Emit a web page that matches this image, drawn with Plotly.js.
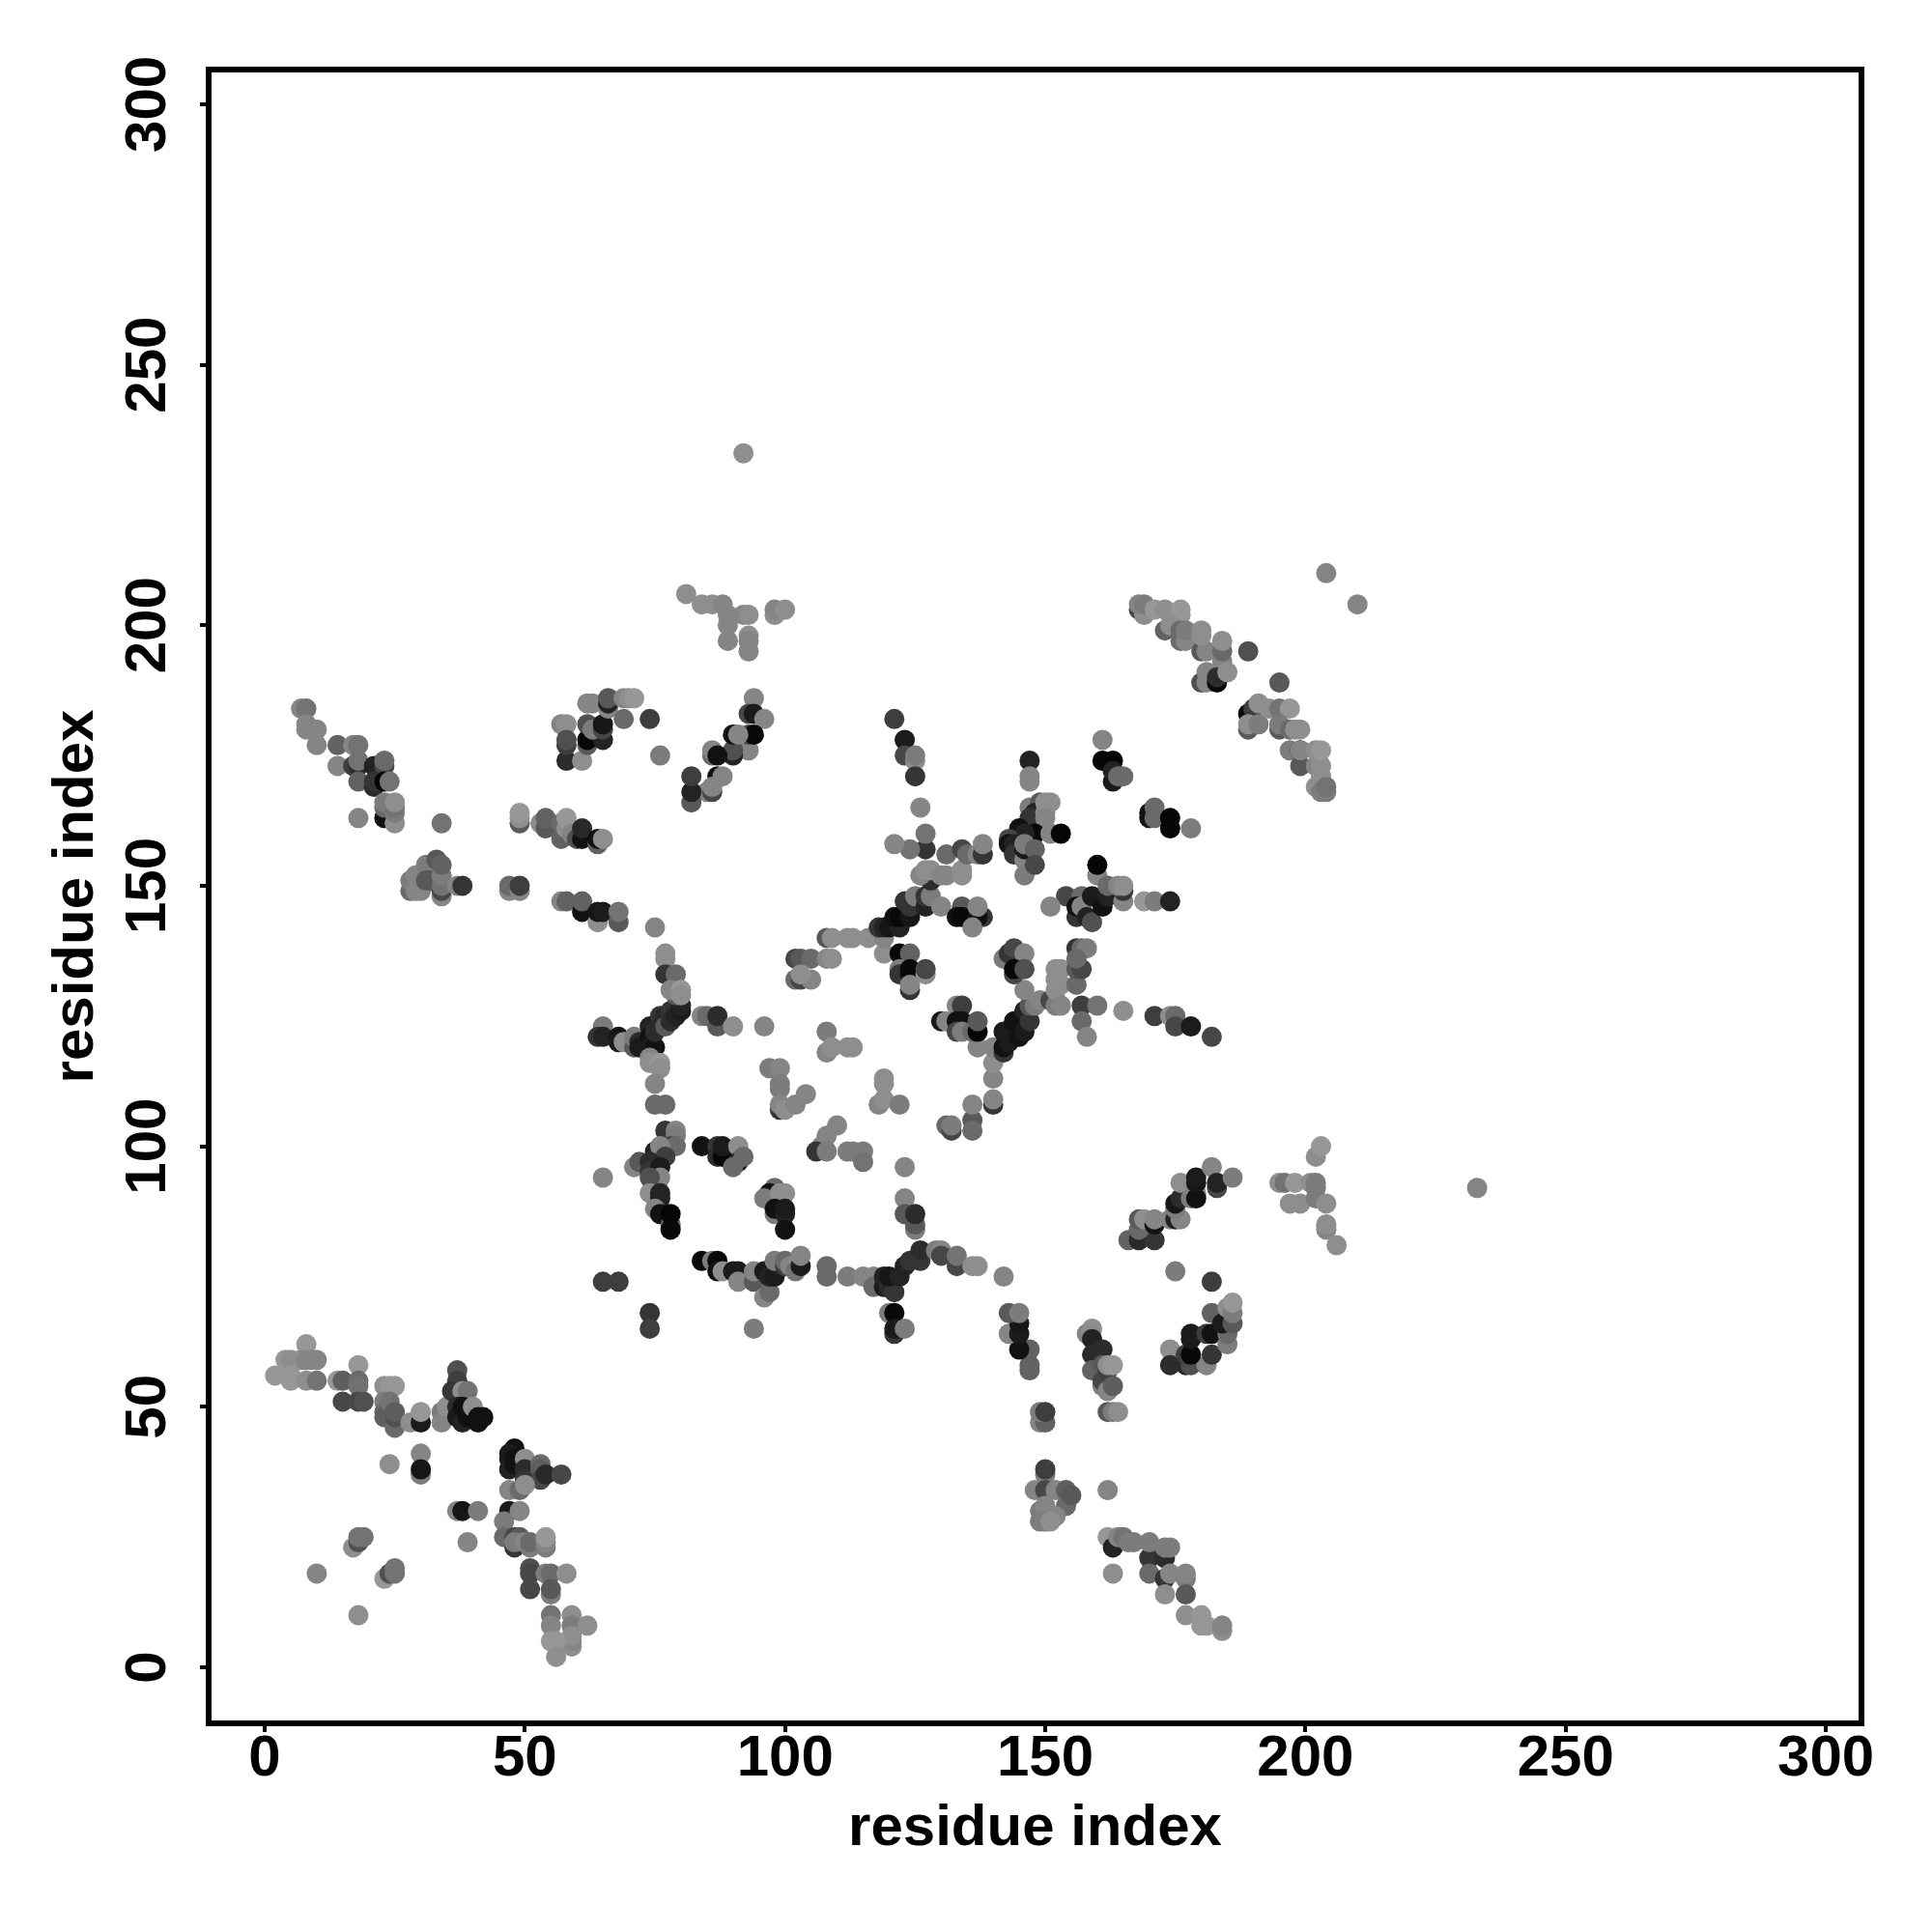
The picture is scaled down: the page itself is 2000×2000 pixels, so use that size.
<!DOCTYPE html>
<html><head><meta charset="utf-8">
<script src="https://cdn.plot.ly/plotly-3.0.1.min.js"></script>
<style>html,body{margin:0;padding:0;background:#fff}</style></head>
<body><div id="chart" style="width:2000px;height:2000px"></div>
<script>
// each contact: [residue i, residue j, grey level 0-255]
const lowerLeftArm=[[8,62,0x88],[4,59,0x88],[5,59,0x80],[7,59,0x80],[8,59,0x78],[9,59,0x78],[10,59,0x78],[2,56,0x88],[5,56,0x88],[5,55,0x88],[8,55,0x80],[10,55,0x68],[14,55,0x88],[15,55,0x55],[18,58,0x88],[18,55,0x60],[18,54,0x66],[15,51,0x40],[18,51,0x40],[19,51,0x48],[23,54,0x80],[24,54,0x88],[25,54,0x88],[23,51,0x70],[23,49,0x60],[23,48,0x55],[24,51,0x68],[25,46,0x60],[25,48,0x48],[25,49,0x55],[28,47,0x80],[30,47,0x18],[30,49,0x88],[34,49,0x70],[34,47,0x78],[35,50,0x80],[37,57,0x48],[37,55,0x38],[36,53,0x30],[38,53,0x80],[39,53,0x68],[37,50,0x28],[37,48,0x18],[38,47,0x20],[38,50,0x10],[39,48,0x10],[40,50,0x80],[41,47,0x10],[41,48,0x10],[42,48,0x10]];
const lowerLeftStem=[[30,41,0x78],[30,37,0x70],[30,38,0x15],[24,39,0x80],[48,42,0x10],[47,41,0x18],[47,40,0x18],[47,38,0x20],[48,40,0x10],[48,39,0x10],[50,40,0x80],[50,38,0x28],[50,36,0x30],[53,39,0x60],[53,38,0x55],[53,36,0x40],[54,37,0x25],[57,37,0x40],[47,34,0x78],[49,34,0x60],[50,35,0x80],[37,30,0x78],[38,30,0x15],[41,30,0x70],[47,30,0x18],[49,30,0x78],[39,24,0x78],[46,28,0x70],[46,25,0x60],[48,23,0x30],[48,25,0x40],[49,25,0x50],[48,24,0x70],[50,24,0x78],[51,23,0x70],[51,24,0x60],[54,23,0x70],[54,24,0x78],[54,25,0x88],[51,19,0x48],[51,18,0x40],[51,15,0x40],[54,18,0x70],[55,18,0x60],[58,18,0x80],[55,14,0x70],[55,15,0x50],[55,10,0x68],[55,8,0x78],[59,10,0x80],[59,8,0x70],[62,8,0x80],[59,4,0x80],[59,5,0x78],[59,6,0x80],[55,5,0x88],[56,5,0x88],[56,2,0x80],[17,23,0x80],[18,24,0x48],[19,25,0x68],[18,25,0x68],[10,18,0x78],[23,17,0x88],[24,18,0x48],[25,19,0x68],[25,18,0x68],[18,10,0x80]];
const lowerRightArm=[[162,25,0x88],[163,23,0x20],[164,25,0x78],[165,25,0x68],[166,24,0x70],[167,24,0x70],[163,18,0x80],[170,21,0x30],[170,24,0x70],[173,21,0x28],[173,23,0x70],[174,23,0x70],[170,18,0x60],[173,17,0x30],[174,18,0x78],[177,17,0x70],[177,18,0x78],[177,14,0x50],[173,14,0x80],[177,10,0x80],[180,10,0x88],[180,8,0x88],[181,8,0x88],[184,7,0x80],[184,8,0x78],[150,37,0x70],[150,38,0x38],[148,34,0x78],[150,34,0x40],[152,34,0x78],[154,31,0x60],[154,34,0x55],[155,33,0x50],[152,29,0x78],[149,30,0x70],[150,31,0x78],[149,28,0x70],[150,28,0x70],[151,28,0x80],[162,34,0x78],[149,47,0x78],[150,47,0x58],[149,49,0x70],[150,49,0x38],[162,49,0x50],[163,49,0x70],[164,49,0x80]];
const rightMiddle=[[147,57,0x58],[147,58,0x58],[147,61,0x58],[145,61,0x10],[143,64,0x78],[145,64,0x18],[145,66,0x15],[143,68,0x50],[145,68,0x70],[158,64,0x78],[159,65,0x80],[159,63,0x20],[159,60,0x28],[161,61,0x28],[159,57,0x58],[161,58,0x50],[161,54,0x70],[161,55,0x40],[162,57,0x38],[162,53,0x78],[163,54,0x55],[162,58,0x80],[163,58,0x88],[174,61,0x80],[174,58,0x28],[177,58,0x28],[178,58,0x48],[181,58,0x78],[177,60,0x38],[178,60,0x08],[178,64,0x18],[178,63,0x18],[181,64,0x38],[182,60,0x30],[182,64,0x10],[182,68,0x58],[182,74,0x38],[185,62,0x70],[185,64,0x60],[184,66,0x18],[186,66,0x50],[185,69,0x80],[186,68,0x70],[186,70,0x88],[175,76,0x70],[166,82,0x58],[168,82,0x25],[171,82,0x30],[168,84,0x60],[168,86,0x50],[169,86,0x80],[171,85,0x10],[171,86,0x78],[174,86,0x78],[175,86,0x20],[176,86,0x78],[175,88,0x70],[175,89,0x15],[176,90,0x28],[176,93,0x80],[178,90,0x70],[179,91,0x80],[179,90,0x10],[179,93,0x15],[179,94,0x18],[182,96,0x78],[183,92,0x40],[183,93,0x20],[186,94,0x70],[195,93,0x80],[196,93,0x68],[198,93,0x88],[197,89,0x80],[199,89,0x80],[201,93,0x80],[202,92,0x70],[202,93,0x70],[202,90,0x70],[204,89,0x80],[204,84,0x78],[204,85,0x80],[206,81,0x80],[202,98,0x80],[203,100,0x88],[233,92,0x78]];
const centerLowerLeft=[[65,94,0x78],[77,103,0x30],[79,103,0x78],[79,102,0x70],[78,100,0x40],[79,100,0x60],[75,99,0x20],[76,100,0x78],[77,98,0x38],[71,96,0x78],[72,97,0x50],[74,97,0x28],[74,95,0x30],[76,96,0x18],[76,94,0x78],[74,94,0x48],[74,91,0x80],[76,91,0x20],[76,90,0x20],[75,88,0x78],[76,87,0x10],[78,85,0x58],[78,87,0x05],[78,84,0x08],[84,100,0x10],[87,100,0x30],[87,98,0x28],[88,98,0x08],[88,100,0x18],[91,100,0x80],[91,97,0x20],[90,96,0x60],[92,98,0x60],[98,92,0x60],[97,91,0x10],[96,90,0x70],[99,91,0x80],[100,91,0x80],[98,87,0x70],[98,88,0x10],[100,87,0x20],[100,88,0x18],[100,84,0x10],[65,74,0x38],[68,74,0x38],[74,68,0x30],[74,65,0x38],[84,78,0x08],[86,78,0x70],[87,78,0x08],[87,76,0x10],[88,76,0x80],[90,76,0x18],[91,76,0x18],[91,74,0x78],[94,74,0x50],[94,76,0x78],[96,71,0x78],[97,72,0x60],[96,76,0x18],[97,75,0x20],[98,75,0x18],[99,77,0x20],[98,78,0x70],[100,77,0x38],[100,78,0x60],[101,77,0x78],[102,76,0x68],[103,77,0x18],[103,79,0x78],[94,65,0x70]];
const centerLowerRight=[[108,77,0x60],[108,75,0x60],[112,75,0x70],[115,75,0x78],[117,75,0x78],[117,73,0x60],[119,73,0x18],[119,75,0x20],[120,73,0x28],[121,72,0x30],[120,75,0x15],[122,75,0x20],[123,77,0x20],[124,78,0x30],[126,78,0x30],[126,80,0x28],[120,68,0x70],[121,68,0x08],[121,64,0x30],[121,65,0x18],[123,65,0x70],[123,96,0x78],[123,90,0x78],[123,87,0x50],[125,84,0x70],[125,85,0x50],[125,87,0x28],[129,80,0x70],[130,80,0x78],[130,79,0x40],[133,77,0x40],[133,79,0x68],[136,77,0x80],[137,77,0x80],[142,75,0x78]];
const centerFanLeft=[[65,123,0x70],[64,121,0x30],[65,121,0x20],[68,121,0x10],[68,120,0x18],[69,120,0x80],[71,119,0x50],[71,121,0x70],[72,120,0x28],[72,119,0x18],[74,123,0x20],[74,121,0x10],[74,119,0x18],[75,119,0x10],[75,122,0x28],[76,125,0x30],[76,123,0x28],[77,125,0x25],[77,123,0x50],[78,126,0x30],[78,124,0x28],[79,125,0x20],[80,126,0x18],[80,127,0x20],[74,117,0x78],[74,116,0x80],[76,116,0x88],[76,115,0x80],[75,112,0x78],[75,108,0x60],[77,108,0x60],[77,137,0x80],[77,136,0x80],[77,133,0x30],[79,133,0x60],[79,129,0x50],[78,130,0x78],[80,130,0x88],[80,129,0x80],[84,125,0x78],[85,125,0x60],[87,123,0x50],[87,125,0x28],[90,123,0x80],[96,123,0x78],[75,142,0x78]];
const centerScatter=[[108,122,0x70],[108,118,0x78],[109,119,0x80],[112,119,0x80],[113,119,0x80],[97,115,0x70],[99,115,0x78],[99,112,0x70],[99,111,0x70],[99,107,0x30],[99,108,0x78],[100,107,0x80],[102,108,0x78],[104,110,0x78],[110,104,0x78],[108,102,0x78],[107,100,0x78],[106,99,0x30],[108,99,0x70],[112,99,0x70],[113,99,0x70],[115,99,0x70],[115,97,0x68],[119,113,0x80],[119,112,0x80],[118,108,0x78],[119,109,0x80],[122,108,0x70]];
const centerFanRight=[[131,104,0x60],[132,103,0x40],[132,104,0x70],[136,105,0x50],[136,103,0x60],[136,108,0x78],[140,108,0x30],[140,109,0x78],[140,113,0x78],[140,116,0x80],[137,119,0x78],[140,119,0x78],[142,118,0x30],[142,122,0x18],[142,119,0x10],[143,120,0x18],[144,124,0x10],[145,121,0x10],[146,122,0x18],[146,126,0x20],[147,124,0x30],[147,127,0x50],[148,127,0x70],[149,128,0x78],[146,130,0x78],[151,128,0x40],[152,128,0x40],[152,127,0x70],[152,134,0x80],[153,134,0x80],[152,132,0x80],[152,130,0x80],[153,131,0x80],[153,127,0x78],[156,131,0x60],[156,134,0x50],[157,134,0x40],[156,138,0x30],[157,138,0x60],[158,138,0x70],[156,136,0x60],[157,127,0x38],[160,127,0x68],[157,124,0x60],[158,121,0x78],[165,126,0x80],[171,125,0x38],[174,125,0x80],[175,125,0x60],[175,123,0x40],[178,123,0x18],[182,121,0x40],[142,136,0x70],[143,137,0x30],[144,138,0x40],[146,137,0x78],[144,133,0x40],[144,134,0x08],[146,134,0x48],[133,127,0x78],[134,127,0x38],[130,124,0x18],[131,124,0x78],[133,124,0x10],[134,124,0x10],[133,122,0x40],[134,122,0x70],[136,122,0x60],[137,122,0x05],[137,124,0x50]];
const upperFanLeft=[[119,137,0x80],[122,137,0x08],[124,137,0x58],[122,134,0x70],[122,133,0x30],[124,133,0x10],[124,134,0x08],[127,133,0x80],[127,134,0x40],[124,130,0x30],[124,131,0x78],[102,136,0x40],[103,136,0x50],[105,136,0x60],[102,132,0x60],[103,132,0x40],[105,132,0x78],[103,133,0x80],[108,136,0x78],[109,136,0x80],[108,140,0x50],[109,140,0x80],[112,140,0x80],[113,140,0x80],[116,140,0x80],[119,140,0x78],[118,142,0x30],[119,142,0x20],[120,142,0x15],[122,142,0x20],[121,144,0x10],[122,144,0x08],[123,147,0x30],[124,144,0x15],[124,146,0x30],[125,148,0x70],[127,146,0x20],[127,148,0x30],[128,148,0x70],[128,151,0x28],[126,152,0x78],[127,153,0x80],[128,153,0x80],[130,146,0x78],[130,152,0x78],[131,152,0x78],[134,153,0x80],[134,152,0x80],[127,157,0x30],[127,160,0x68],[124,157,0x68],[121,158,0x78],[126,165,0x78],[131,156,0x60],[134,157,0x40],[135,156,0x60],[137,156,0x78],[138,156,0x30],[138,158,0x78],[134,146,0x50],[133,144,0x10],[134,144,0x08],[138,144,0x30],[137,144,0x10],[137,146,0x78],[136,142,0x78],[121,182,0x38],[123,178,0x18],[123,175,0x40],[125,174,0x80],[125,175,0x70],[125,171,0x30]];
const upperFanRight=[[147,174,0x20],[147,170,0x78],[147,171,0x78],[147,165,0x70],[149,166,0x50],[148,164,0x20],[147,163,0x30],[150,166,0x80],[151,166,0x80],[150,164,0x80],[150,163,0x78],[148,160,0x08],[145,161,0x10],[146,160,0x20],[143,159,0x40],[143,158,0x10],[144,158,0x20],[144,156,0x30],[146,155,0x78],[146,152,0x70],[146,157,0x18],[146,158,0x70],[148,157,0x58],[148,154,0x40],[151,160,0x78],[153,160,0x05],[160,152,0x78],[160,154,0x05],[154,148,0x40],[151,146,0x78],[157,148,0x60],[156,144,0x30],[156,146,0x10],[157,146,0x78],[158,144,0x20],[159,143,0x48],[159,148,0x18],[161,146,0x10],[162,148,0x20],[162,150,0x60],[165,147,0x78],[165,149,0x30],[164,150,0x78],[165,150,0x80],[169,147,0x88],[171,147,0x70],[174,147,0x20],[161,178,0x78],[161,174,0x05],[163,174,0x05],[163,170,0x18],[163,172,0x20],[164,171,0x60],[165,171,0x60],[170,163,0x15],[170,164,0x10],[171,163,0x60],[171,165,0x60],[174,161,0x05],[174,163,0x05],[178,161,0x70]];
const upperRightArc=[[204,210,0x78],[210,204,0x78],[168,203,0x40],[169,202,0x80],[168,204,0x78],[169,204,0x70],[171,203,0x88],[173,203,0x80],[176,202,0x88],[176,203,0x88],[173,199,0x58],[174,200,0x80],[176,197,0x60],[176,199,0x60],[177,197,0x78],[177,199,0x70],[180,195,0x50],[181,195,0x78],[180,198,0x80],[180,199,0x80],[184,193,0x78],[184,195,0x60],[184,197,0x80],[180,189,0x48],[181,189,0x78],[181,191,0x78],[183,189,0x05],[183,190,0x28],[185,191,0x80],[189,195,0x48],[195,189,0x50],[189,183,0x05],[190,184,0x38],[191,185,0x80],[189,180,0x50],[189,181,0x80],[191,181,0x70],[193,184,0x80],[195,184,0x68],[197,184,0x88],[195,180,0x50],[195,181,0x70],[197,180,0x60],[198,180,0x80],[199,180,0x80],[197,176,0x70],[199,173,0x50],[199,176,0x20],[199,176,0x78],[202,173,0x78],[203,173,0x80],[202,176,0x80],[203,176,0x88],[203,171,0x80],[202,169,0x80],[203,168,0x70],[204,168,0x70],[204,169,0x68]];
const upperLeftArm=[[7,184,0x78],[8,184,0x68],[8,181,0x78],[8,180,0x78],[10,180,0x78],[10,177,0x78],[14,177,0x58],[17,177,0x78],[18,177,0x68],[14,173,0x78],[17,173,0x38],[18,173,0x28],[18,174,0x68],[18,170,0x58],[21,173,0x20],[23,173,0x40],[23,174,0x60],[21,169,0x28],[21,170,0x30],[23,170,0x05],[24,170,0x68],[18,163,0x78],[23,163,0x10],[23,165,0x60],[23,166,0x70],[25,162,0x80],[25,164,0x70],[25,165,0x68],[25,166,0x80],[34,162,0x68],[49,162,0x50],[49,163,0x80],[49,164,0x88],[53,162,0x80],[54,161,0x50],[54,163,0x58],[57,159,0x58],[57,162,0x60],[58,161,0x80],[58,163,0x88],[59,160,0x78],[60,159,0x48],[61,159,0x10],[61,161,0x25],[64,158,0x58],[64,159,0x10],[65,159,0x80],[28,149,0x60],[28,151,0x70],[29,149,0x78],[29,152,0x78],[30,149,0x78],[31,154,0x70],[31,151,0x50],[32,151,0x50],[34,148,0x78],[33,155,0x50],[34,149,0x40],[34,150,0x68],[34,152,0x70],[34,154,0x58],[37,150,0x78],[38,150,0x30],[47,149,0x78],[47,150,0x60],[49,149,0x78],[49,150,0x38],[57,147,0x78],[58,147,0x58],[61,145,0x10],[61,147,0x58],[64,143,0x80],[64,145,0x15],[65,145,0x18],[68,143,0x50],[68,145,0x68]];
const upperMiddle=[[57,181,0x78],[58,181,0x80],[58,174,0x28],[58,177,0x38],[58,178,0x48],[61,174,0x80],[62,177,0x50],[62,178,0x05],[65,178,0x20],[62,181,0x48],[63,180,0x70],[62,185,0x78],[63,185,0x78],[65,180,0x40],[65,181,0x15],[66,184,0x78],[66,185,0x20],[66,186,0x50],[69,182,0x60],[69,186,0x78],[70,186,0x80],[71,186,0x88],[74,182,0x38],[76,175,0x70],[94,186,0x78],[93,183,0x40],[94,183,0x18],[96,182,0x78],[93,176,0x78],[93,179,0x40],[94,179,0x08],[90,175,0x20],[90,176,0x48],[90,179,0x10],[91,179,0x78],[86,175,0x60],[86,176,0x78],[87,175,0x10],[87,171,0x10],[88,171,0x78],[85,168,0x78],[86,168,0x40],[86,169,0x78],[82,166,0x50],[82,168,0x20],[82,171,0x38],[81,206,0x80],[84,204,0x80],[86,204,0x80],[88,204,0x78],[89,202,0x78],[92,202,0x78],[93,202,0x80],[89,200,0x78],[89,197,0x78],[93,198,0x80],[93,197,0x78],[93,195,0x78],[98,202,0x80],[98,203,0x78],[100,203,0x80],[92,233,0x80]];
const tickValues=[0,50,100,150,200,250,300];
const axisLabel="residue index";

const regions=[lowerLeftArm,lowerLeftStem,lowerRightArm,rightMiddle,centerLowerLeft,centerLowerRight,centerFanLeft,centerScatter,centerFanRight,upperFanLeft,upperFanRight,upperRightArc,upperLeftArm,upperMiddle];
const rows=regions.flat();
const fontFamily='"Liberation Sans",Arial,sans-serif';
const labelFont={family:fontFamily,size:60,color:'#000',weight:700};
const axisBase={tickmode:'array',tickvals:tickValues,ticktext:tickValues.map(String),showgrid:false,zeroline:false,showline:true,mirror:true,linecolor:'#000',linewidth:6,ticks:'outside',ticklen:6,tickwidth:4,tickcolor:'#000',automargin:false,tickfont:labelFont};
Plotly.newPlot('chart',[{type:'scatter',mode:'markers',x:rows.map(r=>r[0]),y:rows.map(r=>r[1]),
  marker:{size:21,color:rows.map(r=>r[2]),cmin:0,cmax:230,colorscale:[[0,'#000'],[1,'#fff']],showscale:false,line:{width:0}},hoverinfo:'skip'}],
 {width:2000,height:2000,margin:{l:219,r:76,t:75,b:219,pad:0},paper_bgcolor:'#fff',plot_bgcolor:'#fff',showlegend:false,
  xaxis:Object.assign({},axisBase,{range:[-10.21,306.3],ticklabelstandoff:-27,title:{text:axisLabel,standoff:20,font:labelFont}}),
  yaxis:Object.assign({},axisBase,{range:[-10.2,306.1],tickangle:-90,ticklabelstandoff:12,ticklabelshift:9,title:{text:axisLabel,standoff:3,font:labelFont}})},
 {displayModeBar:false,staticPlot:true});
</script></body></html>
